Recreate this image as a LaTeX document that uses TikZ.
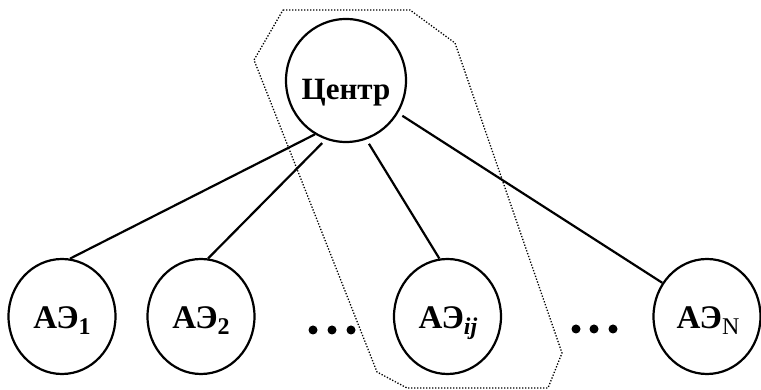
\documentclass[tikz,border=0pt]{standalone}
\usepackage{fontspec}
\setmainfont{Liberation Serif}
\usetikzlibrary{shapes.geometric}
\newcommand\aesub[1]{\raisebox{-6pt}{\fontsize{24}{24}\selectfont #1}}
\tikzset{
  bignode/.style={draw, ellipse, line width=2.2pt, inner sep=0pt, minimum width=120pt, minimum height=123pt},
  smallnode/.style={draw, ellipse, line width=2.2pt, inner sep=0pt, minimum width=107pt, minimum height=115pt},
  lbl/.style={anchor=base, inner sep=0pt, font=\fontsize{33}{33}\selectfont\bfseries},
  conn/.style={line width=2.2pt},
  group/.style={line width=1.3pt, dash pattern=on 1.3pt off 1.7pt},
  dotmark/.style={circle, fill=black, inner sep=0pt, minimum size=9pt}
}
\begin{document}
\begin{tikzpicture}[x=1pt,y=1pt]
\useasboundingbox (0,0) rectangle (761,390);
% group outline
\draw[group] (283,380) -- (410,380) -- (455,347) -- (562,37) -- (548,2) -- (407,2) -- (377,18) -- (254,330) -- cycle;
% nodes
\node[bignode] (c) at (346,309.5) {};
\node[smallnode] (a1) at (62,73.5) {};
\node[smallnode] (a2) at (201,73.5) {};
\node[smallnode] (aij) at (447.5,73.5) {};
\node[smallnode] (an) at (707,73.5) {};
% labels
\node[lbl, font=\fontsize{31}{31}\selectfont\bfseries] (tc) at (346,290.5) {Центр};
\node[lbl] (t1) at (62,61) {АЭ\aesub{1}};
\node[lbl] (t2) at (201,61) {АЭ\aesub{2}};
\node[lbl] (tij) at (448,61) {АЭ\aesub{\textit{ij}}};
\node[lbl] (tn) at (708,61) {АЭ\aesub{\mdseries N}};
% connectors
\draw[conn] (c.240.4) -- (a1.82.3);
\draw[conn, shorten <=5pt] (c.251) -- (a2.83.3);
\draw[conn, shorten <=5pt] (c.289.7) -- (aij.98.3);
\draw[conn, shorten <=5pt] (c.328) -- (an.143);
% ellipsis dots
\node[dotmark] (d1) at (313,60) {};
\node[dotmark] (d2) at (332,60) {};
\node[dotmark] (d3) at (351,60) {};
\node[dotmark] (d4) at (576,61) {};
\node[dotmark] (d5) at (594,61) {};
\node[dotmark] (d6) at (613,61) {};
\end{tikzpicture}
\end{document}
